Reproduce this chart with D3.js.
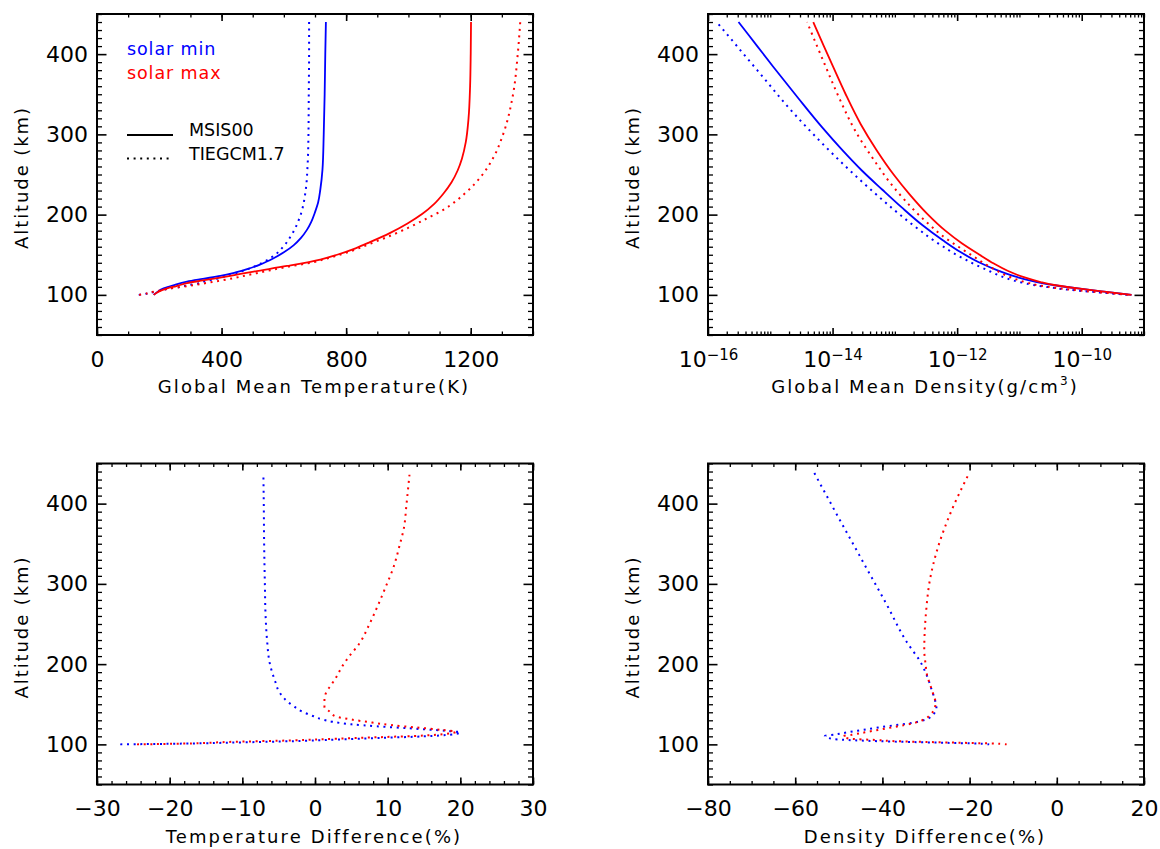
<!DOCTYPE html>
<html>
<head>
<meta charset="utf-8">
<script src="https://d3js.org/d3.v7.min.js"></script>
<style>
  body { margin: 0; background: #fff; }
  svg { display: block; }
</style>
</head>
<body>
<script>
// ---- data: [altitude km, value] ----
// global mean temperature (K)
const msisMinT = [[100,182],[104,195],[108,214],[112,245],[116.6,289],[120,340],[123.6,396],[128,445],[132,482],[138,525],[145.7,567],[153,600],[162,632],[171,655],[181,674],[191,688],[203,700],[215,710],[231,717],[256,724],[300,728],[350,731],[400,733],[440,735]]
const tiegcmMinT = [[100,134],[101,152],[102.5,171],[104,189],[106,211],[108,233],[110,267],[112,291],[115,334],[117,347],[120,384],[125,431],[130,470],[140,531],[150,572],[160,598],[175,625],[200,654],[230,670],[260,676],[300,679],[350,680],[400,681],[440,681]]
const msisMaxT = [[100,182],[104,198],[108,225],[111,255],[114.6,289],[118,340],[121.6,396],[125,445],[129,503],[136,610],[144,717],[150,771],[158,830],[166,878],[177,940],[189,997],[201,1045],[213,1082],[226,1112],[240,1138],[255,1158],[270,1172],[290,1184],[320,1193],[360,1198],[400,1200],[440,1201]]
const tiegcmMaxT = [[100,135],[101,152],[103,170],[105,197],[107,221],[109,253],[111,293],[113,323],[116,370],[118,400],[121,441],[124,476],[127,512],[131,560],[135,612],[141,698],[146,745],[155,819],[164,879],[175,950],[185,1007],[195,1058],[206,1112],[227,1183],[250,1238],[272,1274],[300,1304],[350,1336],[400,1351],[440,1359]]

// global mean density, log10(g/cm3)
const msisMinD = [[100,-9.2],[104,-9.64],[108,-10.06],[112,-10.43],[116,-10.72],[122,-11.03],[130,-11.33],[141,-11.66],[153,-11.94],[168,-12.23],[187,-12.56],[209,-12.89],[231,-13.2],[255,-13.53],[281,-13.85],[309,-14.17],[345,-14.55],[384,-14.95],[410,-15.21],[440,-15.51]]
const tiegcmMinD = [[100,-9.27],[101,-9.4],[102,-9.55],[103,-9.71],[104,-9.87],[105.4,-10.07],[107,-10.28],[110.3,-10.6],[112.4,-10.78],[115,-10.94],[118,-11.1],[121,-11.22],[124,-11.32],[127,-11.41],[131,-11.52],[137,-11.69],[145,-11.89],[152,-12.06],[160,-12.22],[168,-12.38],[180,-12.59],[200,-12.92],[230,-13.37],[272,-13.95],[326,-14.62],[380,-15.21],[440,-15.86]]
const msisMaxD = [[100,-9.2],[104,-9.64],[108,-10.06],[112,-10.42],[116,-10.66],[122,-10.93],[130,-11.19],[139,-11.41],[150,-11.64],[164,-11.92],[180,-12.19],[201,-12.48],[225,-12.76],[250,-13.02],[280,-13.29],[313,-13.55],[350,-13.79],[384,-13.99],[410,-14.14],[440,-14.31]]
const tiegcmMaxD = [[100,-9.25],[101,-9.38],[102,-9.53],[103,-9.69],[104,-9.84],[105.4,-10.02],[107,-10.24],[110.3,-10.56],[112,-10.7],[115,-10.86],[118,-11.0],[121,-11.11],[124,-11.21],[127,-11.29],[131,-11.38],[137,-11.52],[145,-11.68],[152,-11.82],[160,-11.98],[175,-12.26],[185,-12.41],[200,-12.62],[218,-12.84],[240,-13.08],[264,-13.3],[305,-13.64],[343,-13.88],[388,-14.13],[440,-14.41]]

// temperature difference (%)
const tempDiffMin = [[100,-26.8],[101,-18],[102.5,-10],[104,-3],[106,3],[108,9],[110,15],[112,18.5],[115,20],[117,17.8],[120,13],[122.5,8.5],[125,5],[128,2.5],[131,1],[135,-0.2],[141,-1.8],[148,-3],[156,-4.1],[165,-4.9],[179,-5.5],[200,-6.2],[230,-6.6],[260,-6.8],[300,-6.9],[350,-7.0],[400,-7.05],[435,-7.1]]
const tempDiffMax = [[100,-24.5],[101,-18],[103,-12],[105,-3],[107,3],[109,9],[111,15],[113,18],[115.8,19.4],[118,17.5],[121,14],[124,10.5],[127,8],[131,5],[135,2.8],[141,2],[146,1.3],[155,1.3],[164,1.5],[175,2.3],[185,3],[195,3.6],[206,4.4],[227,6.2],[250,7.5],[272,8.6],[300,9.9],[318,10.7],[350,11.7],[368,12.2],[400,12.6],[436,13.0]]

// density difference (%)
const densDiffMin = [[100,-15.5],[101,-18],[102,-26],[103,-34],[104,-41],[105.4,-47.8],[107,-51.6],[110.3,-53.2],[112.4,-50.8],[115,-48],[118,-44.5],[121,-41],[124,-37],[127,-33],[131,-30],[137,-28.4],[145,-27.6],[152,-27.8],[160,-28.2],[168,-28.7],[180,-29.4],[200,-31],[230,-34.7],[272,-38.8],[326,-44.3],[380,-49.8],[439,-55.7]]
const densDiffMax = [[100,-11.5],[101,-14],[102,-22],[103,-30],[104,-37],[105.4,-41],[107,-47.5],[110.3,-49],[112,-47],[115,-44],[118,-41],[121,-38],[124,-35],[127,-32.5],[131,-30.5],[137,-29],[145,-28],[152,-27.8],[160,-28.2],[175,-29.1],[185,-29.7],[200,-30.1],[218,-30.4],[240,-30.3],[264,-30],[305,-29.1],[343,-27.4],[388,-24.4],[438,-20.1]]

// tick values
const altTicks = [100, 200, 300, 400]
const tempTicks = [0, 400, 800, 1200]
const densTicks = [1e-16, 1e-14, 1e-12, 1e-10]
const tempDiffTicks = [-30, -20, -10, 0, 10, 20, 30]
const densDiffTicks = [-80, -60, -40, -20, 0, 20]

const BLUE = "#0000ff", RED = "#ff0000"
const FONT = "'DejaVu Sans', Verdana, sans-serif"

const svg = d3.select("body").append("svg")
    .attr("width", 1160)
    .attr("height", 849)
    .style("font-family", FONT)

const lineSolid = g => g.attr("stroke-width", 1.8)
const lineDot = g => g.attr("stroke-width", 2).attr("stroke-dasharray", "2,4.6")

function minus(s) { return String(s).replace("-", "\u2212") }

function drawPanel(p) {
    const x = p.x, y = d3.scaleLinear().domain([50, 450]).range([p.y1, p.y0])
    const g = svg.append("g")

    // series
    const line = d3.line()
        .x(d => x(p.conv ? p.conv(d[1]) : d[1]))
        .y(d => y(d[0]))
        .curve(d3.curveMonotoneY)
    p.series.forEach(s => {
        g.append("path")
            .datum(s.data)
            .attr("d", line)
            .attr("fill", "none")
            .attr("stroke", s.color)
            .call(s.dotted ? lineDot : lineSolid)
    })

    // minor and major ticks on all four sides, pointing inward
    const yMinor = d3.range(50, 451, 10).filter(v => !altTicks.includes(v))
    const sides = [
        { ax: d3.axisBottom(x), tr: `translate(0,${p.y1})`, maj: 7, min: 3.5, v: p.xMajor, vm: p.xMinor, lab: true },
        { ax: d3.axisTop(x), tr: `translate(0,${p.y0})`, maj: 7, min: 3.5, v: p.xMajor, vm: p.xMinor },
        { ax: d3.axisLeft(y), tr: `translate(${p.x0},0)`, maj: 9.5, min: 5, v: altTicks, vm: yMinor, lab: true },
        { ax: d3.axisRight(y), tr: `translate(${p.x1},0)`, maj: 9.5, min: 5, v: altTicks, vm: yMinor }
    ]
    sides.forEach((s, i) => {
        const minorAxis = g.append("g").attr("transform", s.tr)
            .call(s.ax.tickValues(s.vm).tickSize(-s.min).tickSizeOuter(0).tickFormat(""))
        minorAxis.select(".domain").remove()
        minorAxis.selectAll("line").attr("stroke-width", 1.3)

        const ax = i < 2 ? (i == 0 ? d3.axisBottom(x) : d3.axisTop(x)) : (i == 2 ? d3.axisLeft(y) : d3.axisRight(y))
        const majorAxis = g.append("g").attr("transform", s.tr)
            .call(ax.tickValues(s.v).tickSize(-s.maj).tickSizeOuter(0)
                .tickPadding(i == 0 ? 16 : 9)
                .tickFormat(s.lab ? (i == 0 ? p.xFmt : d => d) : ""))
            .attr("font-family", FONT)
            .attr("font-size", 22)
        majorAxis.select(".domain").remove()
        majorAxis.selectAll("line").attr("stroke-width", 1.6)
        majorAxis.selectAll("text").attr("fill", "#000")
        if (i == 0 && p.logLabels) {
            majorAxis.selectAll(".tick text").each(function (d) {
                const t = d3.select(this).text(null)
                t.append("tspan").text("10")
                t.append("tspan").attr("font-size", 15).attr("dy", "-0.45em")
                    .text(minus(Math.round(Math.log10(d))))
            })
        }
    })

    // frame
    g.append("rect")
        .attr("x", p.x0).attr("y", p.y0)
        .attr("width", p.x1 - p.x0).attr("height", p.y1 - p.y0)
        .attr("fill", "none").attr("stroke", "#000").attr("stroke-width", 2)

    // axis titles
    const xt = g.append("text")
        .attr("x", (p.x0 + p.x1) / 2 - 1)
        .attr("y", p.y1 + 58)
        .attr("text-anchor", "middle")
        .attr("font-size", 18)
        .attr("letter-spacing", 2.1)
        .text(p.xTitle)
    if (p.xTitleSup) {
        xt.append("tspan").attr("font-size", 12).attr("dy", -8).text(p.xTitleSup)
        xt.append("tspan").attr("dy", 8).text(")")
    }
    g.append("text")
        .attr("transform", `translate(${p.x0 - 69},${(p.y0 + p.y1) / 2 + 3}) rotate(-90)`)
        .attr("text-anchor", "middle")
        .attr("font-size", 18)
        .attr("letter-spacing", 1.9)
        .text("Altitude (km)")
}

const L = [97, 533], R = [708, 1144], T = [14, 335], B = [463.5, 784.5]

drawPanel({
    x0: L[0], x1: L[1], y0: T[0], y1: T[1],
    x: d3.scaleLinear().domain([0, 1400]).range(L),
    xMajor: tempTicks, xMinor: d3.range(0, 1401, 100), xFmt: d => d,
    xTitle: "Global Mean Temperature(K)",
    series: [
        { data: msisMinT, color: BLUE }, { data: tiegcmMinT, color: BLUE, dotted: true },
        { data: msisMaxT, color: RED }, { data: tiegcmMaxT, color: RED, dotted: true }
    ]
})

const decades = d3.range(-16, -8)
const logMinor = []
decades.slice(0, -1).forEach(e => { for (let k = 2; k <= 9; k++) logMinor.push(k * Math.pow(10, e)) })
decades.filter(e => e % 2 != 0).forEach(e => logMinor.push(Math.pow(10, e)))

drawPanel({
    x0: R[0], x1: R[1], y0: T[0], y1: T[1],
    x: d3.scaleLog().domain([1e-16, 1e-9]).range(R),
    conv: v => Math.pow(10, v),
    xMajor: densTicks, xMinor: logMinor, xFmt: d => d, logLabels: true,
    xTitle: "Global Mean Density(g/cm", xTitleSup: "3",
    series: [
        { data: msisMinD, color: BLUE }, { data: tiegcmMinD, color: BLUE, dotted: true },
        { data: msisMaxD, color: RED }, { data: tiegcmMaxD, color: RED, dotted: true }
    ]
})

drawPanel({
    x0: L[0], x1: L[1], y0: B[0], y1: B[1],
    x: d3.scaleLinear().domain([-30, 30]).range(L),
    xMajor: tempDiffTicks, xMinor: d3.range(-30, 31, 2), xFmt: d => minus(d),
    xTitle: "Temperature Difference(%)",
    series: [
        { data: tempDiffMin, color: BLUE, dotted: true },
        { data: tempDiffMax, color: RED, dotted: true }
    ]
})

drawPanel({
    x0: R[0], x1: R[1], y0: B[0], y1: B[1],
    x: d3.scaleLinear().domain([-80, 20]).range(R),
    xMajor: densDiffTicks, xMinor: d3.range(-80, 21, 5), xFmt: d => minus(d),
    xTitle: "Density Difference(%)",
    series: [
        { data: densDiffMin, color: BLUE, dotted: true },
        { data: densDiffMax, color: RED, dotted: true }
    ]
})

// legend in first panel
const leg = svg.append("g").attr("font-size", 17.5)
leg.append("text").attr("x", 127).attr("y", 55).attr("fill", BLUE).attr("letter-spacing", 0.9).text("solar min")
leg.append("text").attr("x", 127).attr("y", 79).attr("fill", RED).attr("letter-spacing", 0.9).text("solar max")
leg.append("line").attr("x1", 127).attr("x2", 173).attr("y1", 135).attr("y2", 135)
    .attr("stroke", "#000").call(lineSolid)
leg.append("line").attr("x1", 127).attr("x2", 173).attr("y1", 158.5).attr("y2", 158.5)
    .attr("stroke", "#000").call(lineDot)
leg.append("text").attr("x", 189).attr("y", 136).text("MSIS00")
leg.append("text").attr("x", 189).attr("y", 159.5).text("TIEGCM1.7")
</script>
</body>
</html>
